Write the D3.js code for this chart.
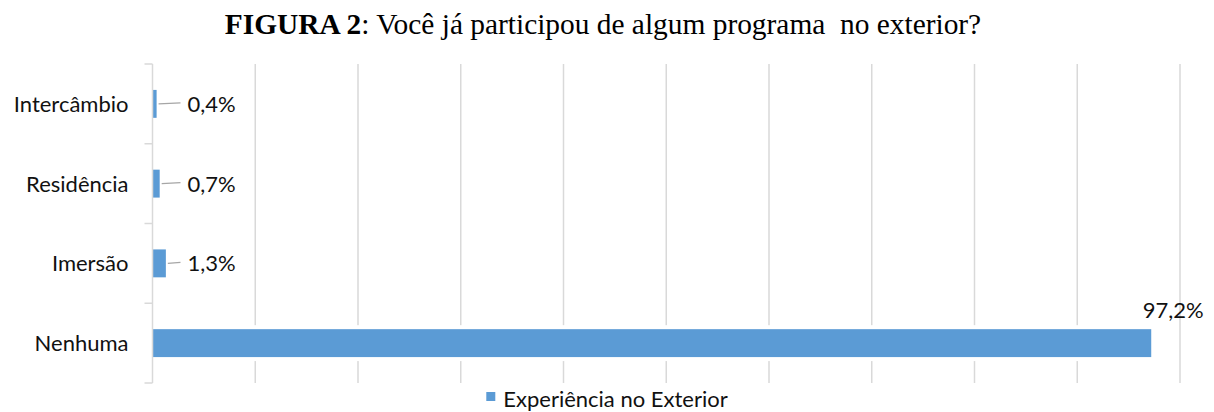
<!DOCTYPE html>
<html><head><meta charset="utf-8">
<script src="https://cdn.jsdelivr.net/npm/d3@7"></script>
<style>
html,body{margin:0;padding:0;background:#fff;}
svg{display:block;}
</style></head>
<body><svg id="chart" width="1214" height="412"></svg>
<script>
const categories = ["Intercâmbio", "Residência", "Imersão", "Nenhuma"];
const values = [0.4, 0.7, 1.3, 97.2];
const valueLabels = ["0,4%", "0,7%", "1,3%", "97,2%"];
const gridValues = [0, 10, 20, 30, 40, 50, 60, 70, 80, 90, 100];
const seriesName = "Experiência no Exterior";
const titleBold = "FIGURA 2";
const titleRest = ": Você já participou de algum programa  no exterior?";

const W = 1214, H = 412;
const margin = {left: 152.5, right: 34, top: 64, bottom: 29};
const svg = d3.select("#chart");
const font = "Lato, 'Open Sans', sans-serif";
const blue = "#5b9bd5", grid = "#d9d9d9", txt = "#111";

const x = d3.scaleLinear().domain([0, 100]).range([margin.left, W - margin.right]);
const y = d3.scaleBand().domain(categories).range([margin.top, H - margin.bottom])
  .paddingInner(0.65).paddingOuter(0.325);

// title
const t = svg.append("text").attr("x", W / 2 - 4).attr("y", 34).attr("text-anchor", "middle")
  .attr("font-family", "'Liberation Serif', 'Times New Roman', serif").attr("font-size", 29.4)
  .style("white-space", "pre").attr("fill", "#000");
t.append("tspan").attr("font-weight", "bold").text(titleBold);
t.append("tspan").text(titleRest);

// gridlines
svg.append("g").selectAll("line").data(gridValues.slice(1)).join("line")
  .attr("x1", d => x(d)).attr("x2", d => x(d))
  .attr("y1", margin.top).attr("y2", H - margin.bottom)
  .attr("stroke", grid).attr("stroke-width", 1.5);

// bars
const data = categories.map((c, i) => ({c, v: values[i], l: valueLabels[i]}));
svg.append("g").selectAll("rect").data(data).join("rect")
  .attr("x", x(0)).attr("y", d => y(d.c))
  .attr("width", d => x(d.v) - x(0)).attr("height", y.bandwidth())
  .attr("fill", blue).attr("stroke", "#fff").attr("stroke-width", 8)
  .style("paint-order", "stroke");

// category axis
const yAxis = d3.axisLeft(y).tickSize(0).tickPadding(24);
const ga = svg.append("g").attr("transform", `translate(${x(0)},0)`).call(yAxis);
ga.select(".domain").remove();
ga.selectAll("text").attr("font-family", font).attr("font-size", 22).attr("fill", txt).attr("dy", "0.36em");
svg.append("line").attr("x1", x(0)).attr("x2", x(0))
  .attr("y1", margin.top).attr("y2", H - margin.bottom)
  .attr("stroke", grid).attr("stroke-width", 1.5);
const bounds = [...categories.map(c => y(c) - y.step() * y.paddingInner() / 2), H - margin.bottom];
svg.append("g").selectAll("line").data(bounds).join("line")
  .attr("x1", x(0) - 8).attr("x2", x(0)).attr("y1", d => d).attr("y2", d => d)
  .attr("stroke", grid).attr("stroke-width", 1.5);

// data labels
const small = data.filter(d => d.v < 10);
const labelX = x(0) + 35;
svg.append("g").selectAll("line").data(small).join("line")
  .attr("x1", d => x(d.v) + 2).attr("x2", labelX - 7)
  .attr("y1", d => y(d.c) + y.bandwidth() / 2).attr("y2", d => y(d.c) + y.bandwidth() / 2 - 1)
  .attr("stroke", "#a6a6a6").attr("stroke-width", 1.5);
svg.append("g").selectAll("text").data(small).join("text")
  .attr("x", labelX).attr("y", d => y(d.c) + y.bandwidth() / 2).attr("dy", "0.36em")
  .attr("font-family", font).attr("font-size", 22).attr("fill", txt).text(d => d.l);
const big = data.filter(d => d.v >= 10);
svg.append("g").selectAll("text").data(big).join("text")
  .attr("x", d => x(d.v) + 22).attr("y", d => y(d.c) - 11).attr("text-anchor", "middle")
  .attr("font-family", font).attr("font-size", 22).attr("fill", txt).text(d => d.l);

// legend
const lg = svg.append("g");
const lt = lg.append("text").attr("y", 407).attr("font-family", font).attr("font-size", 22)
  .attr("fill", txt).text(seriesName);
const tw = lt.node().getComputedTextLength();
const total = 9 + 8 + tw;
const lx = W / 2 - total / 2;
lg.append("rect").attr("x", lx).attr("y", 392).attr("width", 9).attr("height", 9).attr("fill", blue);
lt.attr("x", lx + 17);
</script></body></html>
